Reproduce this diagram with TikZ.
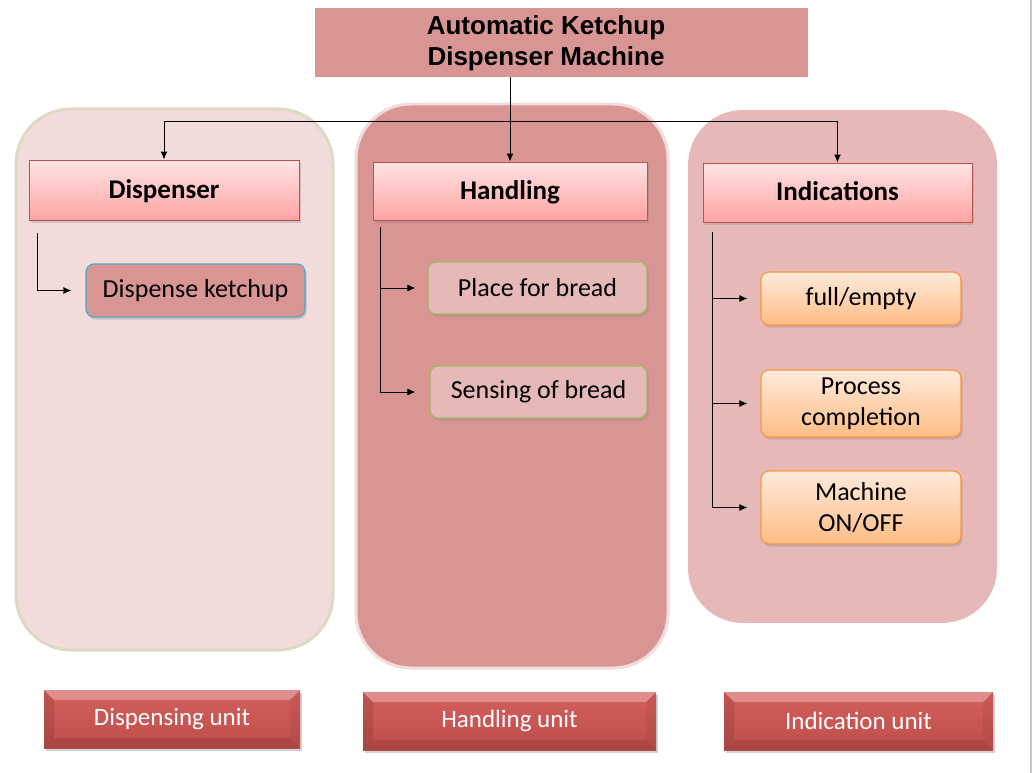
\documentclass[tikz,border=0pt]{standalone}
\usepackage{fontspec}
\setmainfont{Carlito}
\newfontfamily\headfont{Liberation Sans}
\usetikzlibrary{arrows.meta,shadows,calc}
\definecolor{rosedark}{HTML}{D99594}
\definecolor{roselight}{HTML}{F2DCDB}
\definecolor{rosemid}{HTML}{E6B9B8}
\definecolor{khaki}{HTML}{DDD9C3}
\definecolor{redline}{HTML}{C0504D}
\definecolor{blueline}{HTML}{4BACC6}
\definecolor{greenline}{HTML}{9BBB59}
\definecolor{orangeline}{HTML}{F79646}
\definecolor{headtop}{HTML}{FFE4E4}
\definecolor{headbot}{HTML}{FFA3A3}
\definecolor{itemtop}{HTML}{FFEADB}
\definecolor{itembot}{HTML}{FFBD85}
\definecolor{unittop}{HTML}{D55F5C}
\definecolor{unitbot}{HTML}{BD4E4B}
\tikzstyle{arrow} = [line width=1pt,-{Latex[length=8pt,width=7pt]}]
\tikzstyle{branch} = [line width=1pt]
\tikzstyle{panel} = [rounded corners=55pt, line width=3pt]
\tikzstyle{head} = [draw=redline, line width=1pt, top color=headtop, bottom color=headbot, text depth=2pt, font=\fontsize{27}{30}\selectfont\bfseries, drop shadow={opacity=0.3,shadow xshift=1.5pt,shadow yshift=-2.5pt}]
\tikzstyle{item} = [rounded corners=8pt, line width=1.2pt, align=center, font=\fontsize{26}{31}\selectfont, drop shadow={opacity=0.3,shadow xshift=1.5pt,shadow yshift=-2.5pt}]
\tikzstyle{unitbox} = [top color=unittop, bottom color=unitbot, text=white, minimum height=58pt, font=\fontsize{25}{28}\selectfont, drop shadow={opacity=0.35,shadow xshift=2pt,shadow yshift=-3pt},
  path picture={
    \coordinate (nw) at (path picture bounding box.north west);
    \coordinate (ne) at (path picture bounding box.north east);
    \coordinate (sw) at (path picture bounding box.south west);
    \coordinate (se) at (path picture bounding box.south east);
    \fill[white,opacity=0.3] (nw) -- (ne) -- ($(ne)+(-10,10)$) -- ($(nw)+(10,10)$) -- cycle;
    \fill[black,opacity=0.1] (nw) -- ($(nw)+(10,10)$) -- ($(sw)+(10,-10)$) -- (sw) -- cycle;
    \fill[black,opacity=0.05] (ne) -- ($(ne)+(-10,10)$) -- ($(se)+(-10,-10)$) -- (se) -- cycle;
    \fill[black,opacity=0.1] (sw) -- ($(sw)+(10,-10)$) -- ($(se)+(-10,-10)$) -- (se) -- cycle;
  }]

\begin{document}
\begin{tikzpicture}[x=1pt, y=-1pt]
  \useasboundingbox[fill=white] (0,0) rectangle (1033,773);
  \draw[gray!45, line width=1.5pt] (1031,0) -- (1031,773);
  % panels
  \draw[panel, fill=roselight, draw=khaki] (16,109) rectangle (333,650);
  \draw[panel, fill=rosedark, draw=roselight] (356,104) rectangle (668,668);
  \fill[panel, fill=rosemid] (688,110) rectangle (997,623);
  % title
  \node[fill=rosedark, minimum width=493pt, minimum height=69pt] (title) at (561.5,42.5) {};
  \node[font=\headfont\fontsize{26}{31}\selectfont\bfseries, align=center] (titletext) at (546,43) {Automatic Ketchup\\Dispenser Machine};
  % main blocks
  \node[head, minimum width=270pt, minimum height=60pt] (disp) at (164,190) {Dispenser};
  \node[head, minimum width=274pt, minimum height=58pt] (hand) at (510,191) {Handling};
  \node[head, minimum width=269pt, minimum height=59pt] (ind) at (837.5,192.5) {Indications};
  \coordinate (bus) at (510,122);
  \draw[arrow] (title.south -| hand.north) -- (hand.north);
  \draw[branch] (bus -| disp.north) -- (bus -| ind.north);
  \draw[arrow] (bus -| disp.north) -- (disp.north);
  \draw[arrow] (bus -| ind.north) -- (ind.north);
  % sub blocks
  \node[item, fill=rosedark, draw=blueline, minimum width=219pt, minimum height=53pt] (dk) at (195.5,290.5) {Dispense ketchup};
  \node[item, fill=rosemid, draw=greenline, minimum width=219pt, minimum height=52pt] (pb) at (537.5,288) {Place for bread};
  \node[item, fill=rosemid, draw=greenline, minimum width=217pt, minimum height=52pt] (sb) at (538.5,392) {Sensing of bread};
  \node[item, top color=itemtop, bottom color=itembot, draw=orangeline, minimum width=200pt, minimum height=53pt] (fe) at (861,298.5) {full/empty};
  \node[item, top color=itemtop, bottom color=itembot, draw=orangeline, minimum width=200pt, minimum height=67pt] (pc) at (861,403.5) {Process\\completion};
  \node[item, top color=itemtop, bottom color=itembot, draw=orangeline, minimum width=200pt, minimum height=73pt] (mo) at (861,507.5) {Machine\\ON/OFF};
  \coordinate (dtrunk) at (37,233);
  \coordinate (htrunk) at (380,227);
  \coordinate (itrunk) at (712,232);
  \draw[arrow, shorten >=14pt] (dtrunk) |- (dk.west);
  \draw[arrow, shorten >=12pt] (htrunk) |- (pb.west);
  \draw[arrow, shorten >=14pt] (htrunk) |- (sb.west);
  \draw[arrow, shorten >=13pt] (itrunk) |- (fe.west);
  \draw[arrow, shorten >=13pt] (itrunk) |- (pc.west);
  \draw[arrow, shorten >=13pt] (itrunk) |- (mo.west);
  % units
  \node[unitbox, minimum width=256pt] (u1) at (172,719) {Dispensing unit};
  \node[unitbox, minimum width=293pt] (u2) at (509.5,721) {Handling unit};
  \node[unitbox, minimum width=269pt] (u3) at (858.5,721) {Indication unit};
\end{tikzpicture}
\end{document}
